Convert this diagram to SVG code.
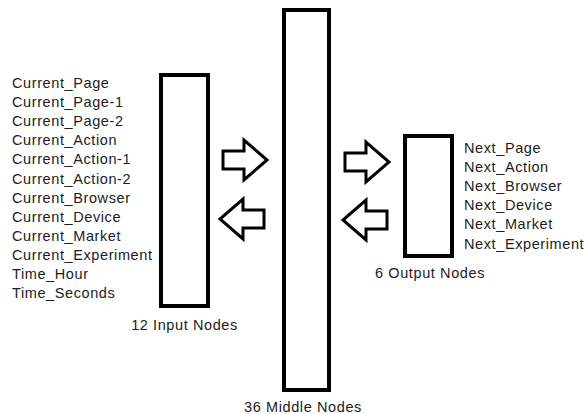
<svg xmlns="http://www.w3.org/2000/svg" width="585" height="414" viewBox="0 0 585 414">
<defs>
<style>
.box{fill:#fff;stroke:#000;stroke-width:4}
.arr{fill:#fff;stroke:#000;stroke-width:3;stroke-linejoin:miter}
.t{font-family:"Liberation Sans",Arial,sans-serif;font-size:14.5px;letter-spacing:0.6px;fill:#1c1c1c}
.c{text-anchor:middle}
</style>
<polygon id="rarrow" points="0,-9 21,-9 21,-20 44,0 21,20 21,9 0,9"/>
<polygon id="larrow" points="44,-9 23,-9 23,-20 0,0 23,20 23,9 44,9"/>
</defs>
<rect width="585" height="414" fill="#fff"/>
<g id="input-layer">
<rect class="box" x="161" y="75" width="47" height="231"/>
<text class="t c" x="184.5" y="330">12 Input Nodes</text>
<g class="t">
<text x="12" y="88">Current_Page</text>
<text x="12" y="107.1">Current_Page-1</text>
<text x="12" y="126.2">Current_Page-2</text>
<text x="12" y="145.3">Current_Action</text>
<text x="12" y="164.4">Current_Action-1</text>
<text x="12" y="183.5">Current_Action-2</text>
<text x="12" y="202.6">Current_Browser</text>
<text x="12" y="221.7">Current_Device</text>
<text x="12" y="240.8">Current_Market</text>
<text x="12" y="259.9">Current_Experiment</text>
<text x="12" y="279">Time_Hour</text>
<text x="12" y="298.1">Time_Seconds</text>
</g>
</g>
<g id="middle-layer">
<rect class="box" x="284" y="10" width="45" height="380"/>
<text class="t c" x="303" y="412">36 Middle Nodes</text>
</g>
<g id="output-layer">
<rect class="box" x="405" y="136" width="47" height="120"/>
<text class="t c" x="430" y="278">6 Output Nodes</text>
<g class="t">
<text x="464" y="153">Next_Page</text>
<text x="464" y="172.1">Next_Action</text>
<text x="464" y="191.2">Next_Browser</text>
<text x="464" y="210.3">Next_Device</text>
<text x="464" y="229.4">Next_Market</text>
<text x="464" y="248.5">Next_Experiment</text>
</g>
</g>
<g id="connectors">
<use href="#rarrow" class="arr" x="223" y="160"/>
<use href="#larrow" class="arr" x="220" y="219"/>
<use href="#rarrow" class="arr" x="345" y="162"/>
<use href="#larrow" class="arr" x="343" y="220"/>
</g>
</svg>
